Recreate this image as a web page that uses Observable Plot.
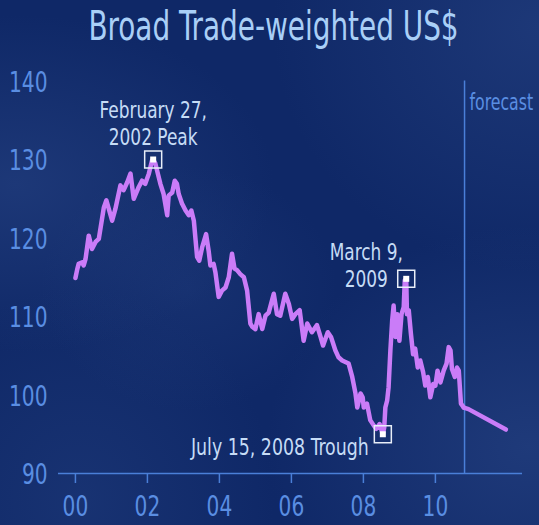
<!DOCTYPE html>
<html>
<head>
<meta charset="utf-8">
<script src="https://cdn.jsdelivr.net/npm/d3@7"></script>
<script src="https://cdn.jsdelivr.net/npm/@observablehq/plot@0.6"></script>
<style>
  html, body { margin: 0; padding: 0; }
  body {
    width: 539px; height: 525px; overflow: hidden;
    background-color: #0f2867;
    background-image:
      radial-gradient(ellipse at 3% 35%, rgba(50,80,145,0.4), rgba(50,80,145,0) 35%),
      radial-gradient(ellipse at 98% 85%, rgba(50,80,145,0.45), rgba(50,80,145,0) 35%),
      radial-gradient(ellipse at 100% 5%, rgba(50,80,145,0.4), rgba(50,80,145,0) 35%),
      radial-gradient(ellipse at 35% 55%, rgba(45,75,140,0.25), rgba(45,75,140,0) 30%),
      radial-gradient(ellipse at 15% 95%, rgba(45,75,140,0.3), rgba(45,75,140,0) 30%);
    font-family: "Liberation Sans Narrow", "DejaVu Sans Condensed", "Liberation Sans", sans-serif;
  }
  #title {
    height: 58px; width: 539px; position: relative;
  }
  #title span {
    position: absolute; left: 0; width: 539px; top: 2px;
    text-align: center; color: #a9cff7; font-size: 40px; line-height: 48px;
    transform: translateX(4px) scaleX(0.775); transform-origin: 50% 50%;
    white-space: nowrap;
  }
  svg { display: block; background: transparent; }
</style>
</head>
<body>
<div id="title"><span>Broad Trade-weighted US$</span></div>
<div id="chart"></div>
<script>
// ---- data ----
const years = [2000.00, 2000.05, 2000.09, 2000.19, 2000.23, 2000.28, 2000.37, 2000.46, 2000.56, 2000.65,
  2000.79, 2000.86, 2001.02, 2001.11, 2001.25, 2001.34, 2001.44, 2001.53, 2001.62, 2001.76,
  2001.85, 2001.94, 2002.04, 2002.13, 2002.16, 2002.22, 2002.36, 2002.45, 2002.55, 2002.59,
  2002.69, 2002.76, 2002.82, 2002.87, 2002.96, 2003.06, 2003.15, 2003.22, 2003.29, 2003.38,
  2003.44, 2003.52, 2003.63, 2003.70, 2003.75, 2003.84, 2003.89, 2003.98, 2004.07, 2004.17,
  2004.26, 2004.35, 2004.42, 2004.49, 2004.58, 2004.68, 2004.77, 2004.86, 2004.91, 2005.00,
  2005.09, 2005.19, 2005.28, 2005.37, 2005.51, 2005.60, 2005.69, 2005.83, 2005.93, 2006.02,
  2006.11, 2006.23, 2006.34, 2006.44, 2006.57, 2006.71, 2006.81, 2006.88, 2007.01, 2007.10,
  2007.22, 2007.31, 2007.41, 2007.50, 2007.59, 2007.69, 2007.78, 2007.83, 2007.92, 2007.98,
  2008.01, 2008.10, 2008.19, 2008.29, 2008.36, 2008.45, 2008.54, 2008.58, 2008.61, 2008.66,
  2008.70, 2008.75, 2008.80, 2008.84, 2008.89, 2008.94, 2009.00, 2009.06, 2009.12, 2009.15,
  2009.19, 2009.21, 2009.26, 2009.32, 2009.38, 2009.44, 2009.51, 2009.58, 2009.66, 2009.72,
  2009.79, 2009.86, 2009.94, 2010.00, 2010.06, 2010.14, 2010.23, 2010.31, 2010.37, 2010.42,
  2010.46, 2010.54, 2010.60, 2010.65, 2010.71, 2010.79];
const values = [114.9, 116.0, 116.7, 116.9, 116.5, 117.3, 120.3, 118.6, 119.5, 119.9,
  123.9, 124.8, 122.2, 123.7, 126.7, 126.1, 127.1, 128.2, 125.0, 126.5,
  127.3, 126.9, 128.2, 129.9, 130.0, 129.5, 126.9, 125.6, 122.9, 125.4,
  125.8, 127.3, 126.9, 125.6, 124.4, 123.5, 122.9, 123.5, 122.2, 117.6,
  117.1, 118.8, 120.5, 118.4, 116.5, 116.7, 115.6, 112.5, 113.3, 113.7,
  115.0, 118.0, 116.1, 115.9, 115.4, 115.0, 113.3, 109.1, 108.7, 108.4,
  110.3, 108.4, 110.1, 110.5, 112.9, 110.3, 110.1, 112.9, 111.6, 109.7,
  110.3, 110.8, 106.9, 109.1, 108.0, 108.9, 107.4, 106.3, 108.0, 107.4,
  105.7, 104.8, 104.4, 104.2, 104.0, 102.3, 100.2, 98.4, 100.2, 99.7,
  98.4, 98.9, 96.8, 96.1, 95.7, 96.3, 95.0, 95.9, 98.4, 99.3,
  101.0, 105.7, 109.5, 111.4, 107.4, 110.3, 106.9, 110.3, 111.2, 114.6,
  114.8, 110.3, 110.8, 107.8, 105.2, 105.9, 103.5, 104.4, 102.9, 101.2,
  102.3, 99.7, 101.4, 101.2, 103.1, 101.6, 103.1, 104.0, 106.1, 105.7,
  103.3, 102.3, 103.5, 103.1, 98.9, 98.4];

const forecastYears = [2010.79, 2010.92, 2011.96];
const forecastValues = [98.4, 98.2, 95.6];
const forecastStart = 2010.81;
const forecastLabel = "forecast";

const annYears = [2002.16, 2009.19, 2008.54];
const annValues = [130.0, 114.8, 95.0];
const annLabels = ["February 27,\n2002 Peak", "March 9,\n2009", "July 15, 2008 Trough"];

const xTicks = [2000, 2002, 2004, 2006, 2008, 2010];
const xTickLabels = ["00", "02", "04", "06", "08", "10"];
const yTicks = [90, 100, 110, 120, 130, 140];

// ---- tables ----
const series = years.map((y, i) => ({year: y, value: values[i]}));
const forecast = forecastYears.map((y, i) => ({year: y, value: forecastValues[i]}));
const ann = annYears.map((y, i) => ({year: y, value: annValues[i], label: annLabels[i]}));

// ---- styles ----
const axisColor = "#4a7fd8";
const tickColor = "#5a8ee2";
const lineColor = "#ca7cf8";
const noteColor = "#c6dcf6";
const font = '"Liberation Sans Narrow", "DejaVu Sans Condensed", "Liberation Sans", sans-serif';

const chart = Plot.plot({
  width: 539,
  height: 467,
  marginLeft: 58,
  marginRight: 17,
  marginTop: 22.5,
  marginBottom: 52,
  style: {background: "transparent", fontFamily: font, overflow: "visible"},
  x: {domain: [1999.53, 2012.42]},
  y: {domain: [90, 140]},
  marks: [
    Plot.axisY({ticks: yTicks, tickSize: 0, tickPadding: 11, fill: tickColor, fontSize: 28, dy: 2, label: null}),
    Plot.ruleY([90], {stroke: axisColor, strokeWidth: 1.5}),
    Plot.axisX({ticks: xTicks, tickFormat: (d) => xTickLabels[xTicks.indexOf(d)], tickSize: 10, tickPadding: 13,
      stroke: axisColor, strokeWidth: 1.5, fill: tickColor, fontSize: 28, label: null}),
    Plot.ruleX([forecastStart], {stroke: axisColor, strokeWidth: 1.5}),
    Plot.text([forecastLabel], {x: forecastStart, y: 140, text: (d) => d, dx: 5, dy: 22, textAnchor: "start",
      fill: tickColor, fontSize: 23}),
    Plot.line(series, {x: "year", y: "value", stroke: lineColor, strokeWidth: 4.5, strokeLinejoin: "round", strokeLinecap: "round"}),
    Plot.line(forecast, {x: "year", y: "value", stroke: lineColor, strokeWidth: 4.5, strokeLinejoin: "round", strokeLinecap: "round"}),
    Plot.dot(ann, {x: "year", y: "value", symbol: "square", r: 17 / Math.sqrt(Math.PI), stroke: "#e8eef8", strokeWidth: 1.5, fill: "none"}),
    Plot.dot(ann, {x: "year", y: "value", symbol: "square", r: 6 / Math.sqrt(Math.PI), fill: "#ffffff", stroke: "none"}),
    Plot.text([ann[0]], {x: "year", y: "value", text: "label", dy: -37, lineAnchor: "middle", lineHeight: 1.2,
      fill: noteColor, fontSize: 23}),
    Plot.text([ann[1]], {x: "year", y: "value", text: "label", dx: -40, dy: -14, lineAnchor: "middle", lineHeight: 1.2,
      fill: noteColor, fontSize: 23}),
    Plot.text([ann[2]], {x: "year", y: "value", text: "label", dx: -14, dy: 13, textAnchor: "end", lineAnchor: "middle",
      fill: noteColor, fontSize: 23})
  ]
});
document.getElementById("chart").appendChild(chart);

// condense text horizontally (reference uses a condensed face)
const squeeze = (el, f) => {
  const w = el.getComputedTextLength();
  if (w > 0) { el.setAttribute("textLength", (w * f).toFixed(1)); el.setAttribute("lengthAdjust", "spacingAndGlyphs"); }
};
chart.querySelectorAll("text").forEach((t) => {
  const spans = t.querySelectorAll("tspan");
  const s = t.textContent;
  if (spans.length) spans.forEach((sp) => squeeze(sp, 0.82));
  else if (s.includes("Trough")) squeeze(t, 0.84);
  else if (s === forecastLabel) squeeze(t, 0.76);
  else squeeze(t, 0.8);
});
</script>
</body>
</html>
